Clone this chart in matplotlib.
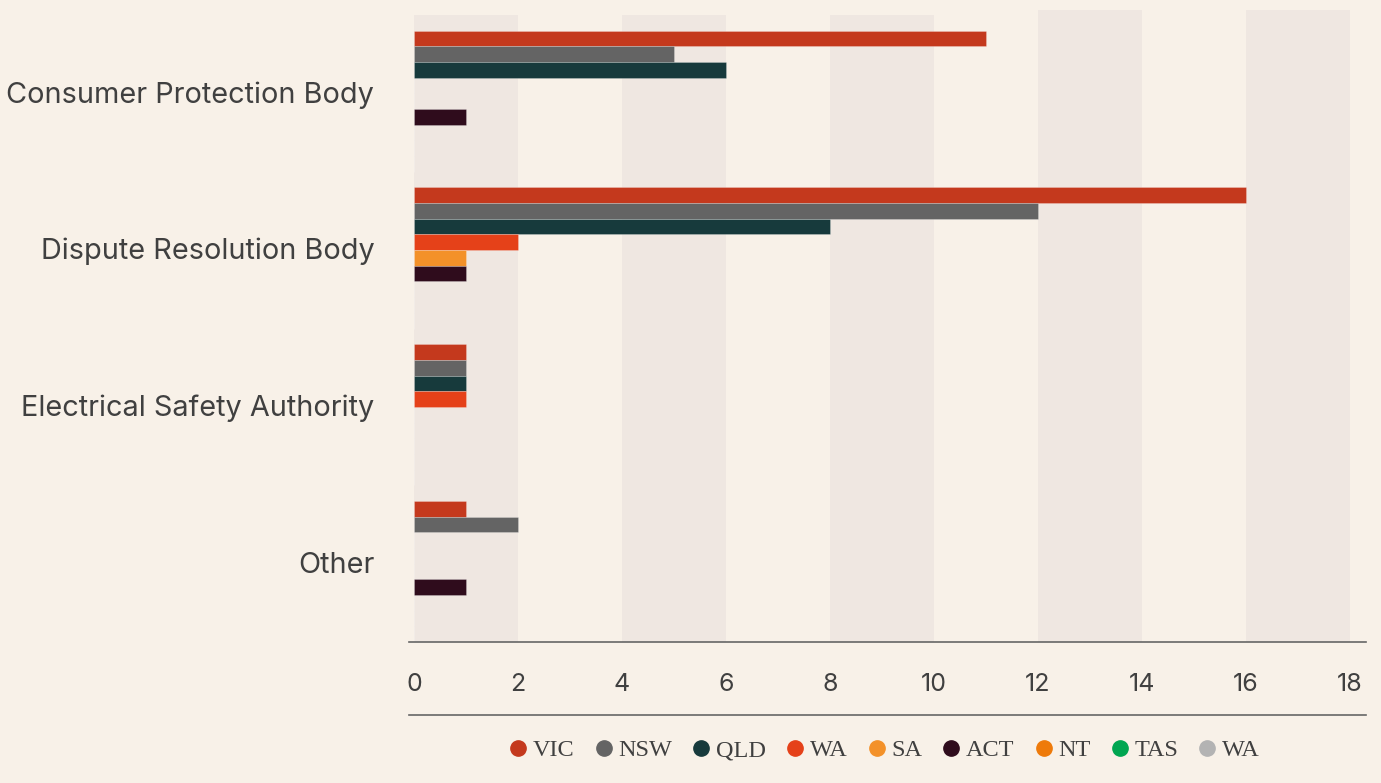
import matplotlib.pyplot as plt
from matplotlib.lines import Line2D
import numpy as np

# categories (top to bottom)
categories = ['Consumer Protection Body', 'Dispute Resolution Body',
              'Electrical Safety Authority', 'Other']
series = ['VIC', 'NSW', 'QLD', 'WA', 'SA', 'ACT', 'NT', 'TAS', 'WA']
colors = ['#C4391D', '#646464', '#173A3C', '#E54119', '#F39129',
          '#2F0C1C', '#EE7A0A', '#00A651', '#B3B3B3']

vic = [11, 16, 1, 1]
nsw = [5, 12, 1, 2]
qld = [6, 8, 1, 0]
wa = [0, 2, 1, 0]
sa = [0, 1, 0, 0]
act = [1, 1, 0, 1]
nt = [0, 0, 0, 0]
tas = [0, 0, 0, 0]
wa2 = [0, 0, 0, 0]
values = [vic, nsw, qld, wa, sa, act, nt, tas, wa2]

xticks = [0, 2, 4, 6, 8, 10, 12, 14, 16, 18]

bg = '#F8F1E8'
band = '#EFE7E1'
txt = '#404040'

W, H = 1381, 783
fig = plt.figure(figsize=(W / 100, H / 100), dpi=100, facecolor=bg)
ax = fig.add_axes([409 / W, 1 - 642 / H, (1366 - 409) / W, (642 - 15) / H])
ax.set_facecolor(bg)

ax.set_xlim(-0.096, 18.31)
ax.set_ylim(len(categories) - 0.5, -0.5)

# alternating background bands
for x0 in xticks[:-1:2]:
    top = 1 + 5 / 627 if x0 >= 12 else 1
    ax.axvspan(x0, x0 + 2, ymin=0, ymax=top, color=band, lw=0, zorder=0, clip_on=False)

slot = 0.1
y = np.arange(len(categories))
for j, (name, vals, c) in enumerate(zip(series, values, colors)):
    pos = y - 0.5 + (j + 1.5) * slot
    ax.barh(pos, vals, height=slot, color=c, zorder=2,
            edgecolor=(1, 1, 1, 0.25), linewidth=0.6)

for s in ['top', 'right', 'left']:
    ax.spines[s].set_visible(False)
ax.spines['bottom'].set_color('#666666')
ax.spines['bottom'].set_linewidth(1.2)

ax.set_yticks(y - 0.01)
ax.set_yticklabels(categories, fontsize=20.8, color=txt, family='Inter')
ax.tick_params(axis='y', length=0, pad=25)
ax.set_xticks(xticks)
ax.set_xticklabels([str(t) for t in xticks], fontsize=18, color=txt, family='Inter')
ax.tick_params(axis='x', length=0, pad=22)

# separator line above legend
fig.add_artist(Line2D([409 / W, 1366 / W], [1 - 715 / H, 1 - 715 / H],
                      color='#666666', lw=1.2))

handles = [Line2D([], [], marker='o', ls='', markersize=11, color=c) for c in colors]
fig.legend(handles, series, loc='center', bbox_to_anchor=(883 / W, 1 - 750 / H),
           ncol=len(series), frameon=False, handletextpad=0.1, columnspacing=0.7,
           handlelength=1.0, prop={'family': 'Liberation Serif', 'size': 17.5},
           labelcolor=txt)

fig.savefig('out.png', dpi=100, facecolor=bg)
